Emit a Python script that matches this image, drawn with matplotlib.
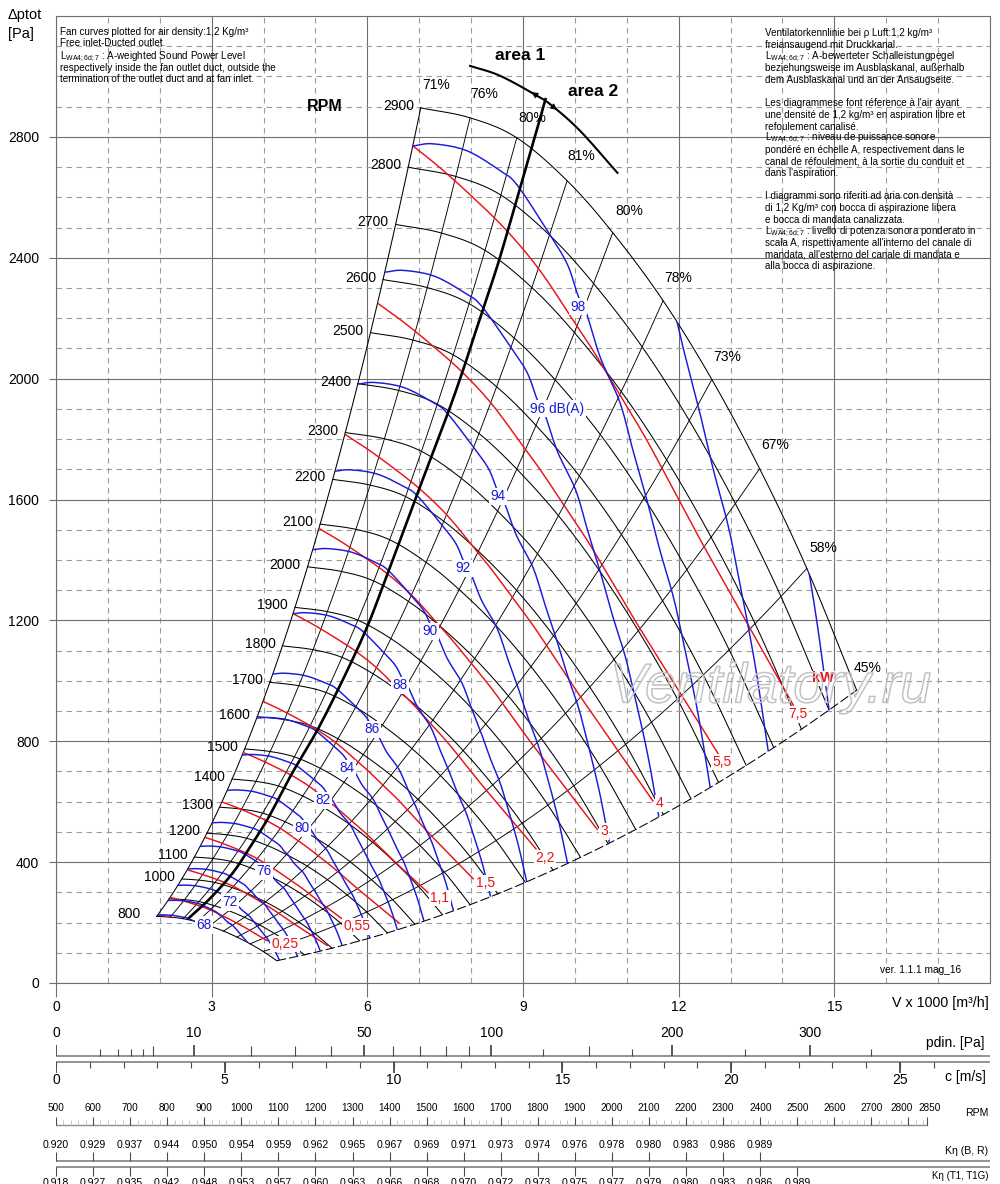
import numpy as np
import matplotlib
matplotlib.use('Agg')
import matplotlib.pyplot as plt
from matplotlib.patches import Polygon
from matplotlib.ticker import MultipleLocator
from matplotlib import patheffects as pe
from matplotlib import font_manager as fm

plt.rcParams['font.family'] = ['Liberation Sans', 'DejaVu Sans']
plt.rcParams['mathtext.fontset'] = 'custom'
plt.rcParams['mathtext.rm'] = 'Liberation Sans'
plt.rcParams['mathtext.it'] = 'Liberation Sans:italic'
plt.rcParams['mathtext.bf'] = 'Liberation Sans:bold'
try:
    fm.findfont('Liberation Sans Narrow', fallback_to_default=False)
    NARROW = ['Liberation Sans Narrow', 'Liberation Sans', 'DejaVu Sans']
    NS = 8.3
except Exception:
    NARROW = ['Liberation Sans', 'DejaVu Sans']
    NS = 7.6

# ------------------------------------------------------------------ data
# fan characteristic at the top speed (V x1000 m3/h, total pressure Pa)
base_V = [7.03, 7.98, 8.88, 9.85, 10.73, 11.70, 12.64, 13.56, 14.47, 15.43]
base_p = [2896, 2863, 2797, 2655, 2483, 2258, 1997, 1702, 1372, 969]
eff_labels = ['71%', '76%', '80%', '81%', '80%', '78%', '73%', '67%', '58%', '45%']
eff_label_V = [7.33, 8.25, 9.18, 10.12, 11.05, 11.99, 12.94, 13.86, 14.79, 15.65]
eff_label_p = [2972, 2942, 2863, 2737, 2556, 2334, 2070, 1779, 1441, 1041]

rpm_values = [800, 900, 1000, 1100, 1200, 1300, 1400, 1500, 1600, 1700, 1800,
              1900, 2000, 2100, 2200, 2300, 2400, 2500, 2600, 2700, 2800, 2900]
rpm_labelled = [800, 1000, 1100, 1200, 1300, 1400, 1500, 1600, 1700, 1800, 1900,
                2000, 2100, 2200, 2300, 2400, 2500, 2600, 2700, 2800, 2900]

# shaft power lines (kW): reference line (7,5 kW) and start / end of each line
red_ref_V = [6.88, 7.40, 8.04, 8.69, 9.33, 9.97, 10.35, 10.87, 11.39, 12.00, 12.47, 13.24, 13.70, 14.21]
red_ref_p = [2770, 2698, 2599, 2489, 2357, 2192, 2093, 1945, 1795, 1600, 1450, 1215, 1075, 919]
red_start_V = [1.97, 2.20, 2.53, 2.87, 3.20, 3.61, 3.99, 4.57, 5.07, 5.57, 6.20, 6.88]
red_end_V = [np.nan, 4.07, np.nan, 5.51, np.nan, 7.17, 8.04, 9.25, 10.43, 11.58, 12.76, 14.21]
red_label_text = ['0,25', '0,55', '1,1', '1,5', '2,2', '3', '4', '5,5', '7,5']
red_label_V = [4.41, 5.80, 7.40, 8.27, 9.43, 10.56, 11.64, 12.84, 14.29]
red_label_p = [129, 188, 281, 331, 413, 502, 595, 731, 889]

# sound power lines dB(A): reference line (98 dB) and start of each line
blue_ref_V = [6.88, 7.27, 7.92, 8.56, 8.89, 9.47, 9.85, 10.06, 10.22, 10.49, 10.87,
              11.12, 11.39, 11.64, 11.88, 12.03, 12.36, 12.61]
blue_ref_p = [2770, 2777, 2754, 2688, 2640, 2489, 2380, 2275, 2218, 2070, 1920,
              1762, 1597, 1431, 1289, 1177, 903, 645]
blue_levels = [68, 70, 72, 74, 76, 78, 80, 82, 84, 86, 88, 90, 92, 94, 96, 98, 100, 102]
blue_start_V = [1.96, 2.16, 2.35, 2.54, 2.78, 3.01, 3.30, 3.59, 3.87, 4.18, 4.57, 4.95,
                5.38, 5.82, 6.34, 6.88, 7.49, 8.13]
blue_label_text = ['68', '72', '76', '80', '82', '84', '86', '88', '90', '92', '94', '96 dB(A)', '98']
blue_label_V = [2.85, 3.35, 4.01, 4.74, 5.15, 5.61, 6.09, 6.63, 7.21, 7.85, 8.52, 9.66, 10.06]
blue_label_p = [192, 268, 370, 512, 605, 711, 840, 985, 1164, 1372, 1610, 1901, 2238]

# area 1 / area 2 limit
area_V = [2.54, 2.97, 3.41, 3.74, 4.07, 4.38, 4.57, 5.14, 5.91, 6.38, 7.01, 7.53, 7.84,
          8.03, 8.23, 8.50, 8.75, 9.00, 9.27, 9.44]
area_p = [212, 280, 365, 450, 540, 640, 700, 870, 1144, 1350, 1640, 1875, 2026,
          2126, 2230, 2370, 2515, 2665, 2825, 2929]
arc_V = [7.98, 8.56, 9.27, 9.56, 10.10, 10.82]
arc_p = [3035, 3002, 2936, 2903, 2820, 2681]

# lower scales
pdin_major = [0, 10, 50, 100, 200, 300]
pdin_mid = [5, 20, 30, 40, 60, 70, 80, 90, 150]
pdin_small = [1, 2, 3, 4, 125, 175, 250, 350]
pdin_right = 460.0        # pdin value at right edge of the scale
c_major = [0, 5, 10, 15, 20, 25]
c_minor = list(range(0, 27))
c_right = 27.67           # m/s at right edge
rpm_scale = [500, 600, 700, 800, 900, 1000, 1100, 1200, 1300, 1400, 1500, 1600, 1700,
             1800, 1900, 2000, 2100, 2200, 2300, 2400, 2500, 2600, 2700, 2800, 2850]
rpm_right = 3020.0
k_br = ['0.920', '0.929', '0.937', '0.944', '0.950', '0.954', '0.959', '0.962', '0.965',
        '0.967', '0.969', '0.971', '0.973', '0.974', '0.976', '0.978', '0.980', '0.983',
        '0.986', '0.989']
k_t1 = ['0.918', '0.927', '0.935', '0.942', '0.948', '0.953', '0.957', '0.960', '0.963',
        '0.966', '0.968', '0.970', '0.972', '0.973', '0.975', '0.977', '0.979', '0.980',
        '0.983', '0.986', '0.989']

text_en = ['Fan curves plotted for air density:1,2 Kg/m\u00b3',
           'Free inlet-Ducted outlet.',
           r'L$_{\rm WA4;6d;7}$ : A-weighted Sound Power Level',
           'respectively inside the fan outlet duct, outside the',
           'termination of the outlet duct and at fan inlet.']
text_multi = ['Ventilatorkennlinie bei \u03c1 Luft:1,2 kg/m\u00b3',
              'freiansaugend mit Druckkanal.',
              r'L$_{\rm WA4;6d;7}$ : A-bewerteter Schalleistungpegel',
              'beziehungsweise im Ausblaskanal, au\u00dferhalb',
              'dem Ausblaskanal und an der Ansaugseite.',
              '',
              'Les diagrammese font r\u00e9ference \u00e0 l\'air ayant',
              'une densit\u00e9 de 1,2 kg/m\u00b3 en aspiration libre et',
              'refoulement canalis\u00e9.',
              r'L$_{\rm WA4;6d;7}$ : niveau de puissance sonore',
              'pond\u00e9r\u00e9 en \u00e9chelle A, respectivement dans le',
              'canal de r\u00e9foulement, \u00e0 la sortie du conduit et',
              'dans l\'aspiration.',
              '',
              'I diagrammi sono riferiti ad aria con densit\u00e0',
              'di 1,2 Kg/m\u00b3 con bocca di aspirazione libera',
              'e bocca di mandata canalizzata.',
              r'L$_{\rm WA4;6d;7}$ : livello di potenza sonora ponderato in',
              'scala A, rispettivamente all\'interno del canale di',
              'mandata, all\'esterno del canale di mandata e',
              'alla bocca di aspirazione.']

# ------------------------------------------------------------------ helpers
YS = 171.5  # Pa per V-unit visual ratio (for smooth drawing only)


def smooth(xs, ys, n=10):
    P = np.column_stack([np.asarray(xs, float), np.asarray(ys, float) / YS])
    if len(P) < 3:
        return P[:, 0], P[:, 1] * YS
    P = np.vstack([2 * P[0] - P[1], P, 2 * P[-1] - P[-2]])
    t = np.linspace(0, 1, n, endpoint=False)[:, None]
    out = []
    for i in range(1, len(P) - 2):
        p0, p1, p2, p3 = P[i - 1], P[i], P[i + 1], P[i + 2]
        out.append(0.5 * (2 * p1 + (-p0 + p2) * t + (2 * p0 - 5 * p1 + 4 * p2 - p3) * t ** 2
                          + (-p0 + 3 * p1 - 3 * p2 + p3) * t ** 3))
    out.append(P[-2][None, :])
    out = np.vstack(out)
    return out[:, 0], out[:, 1] * YS


W, H = 1000, 1184
L, R, T, B = 56, 990, 16, 983
fig = plt.figure(figsize=(W / 100, H / 100), dpi=100)


def ftext(xp, yp, s, **kw):
    return fig.text(xp / W, 1 - yp / H, s, **kw)


ax = fig.add_axes([L / W, 1 - B / H, (R - L) / W, (B - T) / H])
ax.set_xlim(0, 18)
ax.set_ylim(0, 3200)
ax.set_xticks([0, 3, 6, 9, 12, 15])
ax.set_yticks([0, 400, 800, 1200, 1600, 2000, 2400, 2800])
ax.xaxis.set_minor_locator(MultipleLocator(1))
ax.yaxis.set_minor_locator(MultipleLocator(100))
GC = '#6e6e6e'
ax.grid(which='major', color=GC, lw=0.8)
ax.grid(which='minor', color='#9c9c9c', lw=0.8, ls=(0, (5, 4)))
ax.set_axisbelow(True)
ax.tick_params(which='minor', length=0)
ax.tick_params(axis='x', which='major', length=10, width=0.8, color=GC, pad=2, labelsize=10)
ax.tick_params(axis='y', which='major', length=5, width=0.8, color=GC, pad=7, labelsize=10)
for sp_ in ax.spines.values():
    sp_.set_color(GC)
    sp_.set_linewidth(0.8)

RED = '#e8131a'
BLUE = '#1a1ad8'

# ---- rpm curves
sV, sp = smooth(base_V, base_p)
rr = np.array(rpm_values, float) / rpm_values[-1]
for n, r in zip(rpm_values, rr):
    ax.plot(r * sV, r * r * sp, color='k', lw=0.75, zorder=3)
    if n in rpm_labelled:
        off = -16 if n == 800 else -7
        ax.annotate(str(n), (r * base_V[0], r * r * base_p[0]), xytext=(off, 2),
                    textcoords='offset pixels', ha='right', va='center', fontsize=10, zorder=9)

# ---- efficiency lines
for i, (v, p) in enumerate(zip(base_V, base_p)):
    ex, ey = smooth(rr * v, rr ** 2 * p, n=4)
    ls = (0, (9, 3)) if i == len(base_V) - 1 else '-'
    ax.plot(ex, ey, color='k', lw=0.65 if 0 < i < len(base_V) - 1 else 0.75, ls=ls, zorder=3)
    ax.text(eff_label_V[i], eff_label_p[i], eff_labels[i], ha='center', va='center',
            fontsize=10, zorder=9)

# ---- diagram region for clipping
r_lo = rr[0]
top = np.column_stack([sV, sp])
right = np.column_stack([rr[::-1] * base_V[-1], rr[::-1] ** 2 * base_p[-1]])
bottom = np.column_stack([r_lo * sV[::-1], r_lo ** 2 * sp[::-1]])
left = np.column_stack([rr * base_V[0], rr ** 2 * base_p[0]])
clip = Polygon(np.vstack([top, right, bottom, left]), closed=True, facecolor='none',
               edgecolor='none', transform=ax.transData)
ax.add_patch(clip)

# ---- power lines
rxs, rys = smooth(red_ref_V, red_ref_p)
for s0, e in zip(red_start_V, red_end_V):
    k = s0 / red_ref_V[0]
    x, y = k * rxs, k * k * rys
    if not np.isnan(e) and e < x[-1]:
        m = x <= e
        x, y = np.append(x[m], e), np.append(y[m], np.interp(e, x, y))
    ln, = ax.plot(x, y, color=RED, lw=1.05, zorder=4)
    ln.set_clip_path(clip)
for s, v, p in zip(red_label_text, red_label_V, red_label_p):
    ax.text(v, p, s, color=RED, fontsize=10, ha='center', va='center', zorder=10,
            bbox=dict(boxstyle='square,pad=0.1', fc='white', ec='none'))
ax.text(14.79, 1008, 'kW', color=RED, fontsize=10.5, fontweight='bold', ha='center',
        va='center', zorder=10, bbox=dict(boxstyle='square,pad=0.05', fc='white', ec='none'))

# ---- sound lines
bxs, bys = smooth(blue_ref_V, blue_ref_p)
for s0 in blue_start_V:
    k = s0 / blue_ref_V[0]
    ln, = ax.plot(k * bxs, k * k * bys, color=BLUE, lw=1.05, zorder=5)
    ln.set_clip_path(clip)
for s, v, p in zip(blue_label_text, blue_label_V, blue_label_p):
    ax.text(v, p, s, color=BLUE, fontsize=9.8, ha='center', va='center', zorder=10,
            bbox=dict(boxstyle='square,pad=0.12', fc='white', ec='none'))

# ---- area limit
ax.plot(*smooth(area_V, area_p), color='k', lw=1.9, zorder=6, solid_capstyle='butt')
ax.plot(*smooth(arc_V, arc_p), color='k', lw=1.5, zorder=6)
ax.annotate('', xy=(9.12, 2953), xytext=(9.38, 2924),
            arrowprops=dict(arrowstyle='-|>', color='k', lw=0.8, mutation_scale=9), zorder=7)
ax.annotate('', xy=(9.70, 2884), xytext=(9.46, 2915),
            arrowprops=dict(arrowstyle='-|>', color='k', lw=0.8, mutation_scale=9), zorder=7)
ax.text(8.95, 3068, 'area 1', fontsize=12.5, fontweight='bold', ha='center', va='center')
ax.text(10.35, 2949, 'area 2', fontsize=12.5, fontweight='bold', ha='center', va='center')
ax.text(5.17, 2899, 'RPM', fontsize=11.5, fontweight='bold', ha='center', va='center')

# ---- watermark and version
ax.text(13.77, 975, 'Ventilatory.ru', fontsize=40, style='italic', color='none',
        ha='center', va='center', zorder=11,
        path_effects=[pe.Stroke(linewidth=1.1, foreground='#c2c2c2')])
ax.text(16.66, 43, 'ver. 1.1.1 mag_16', fontsize=7.3, ha='center', va='center')

# ---- text blocks
ys_en = [31.7, 42.9, 56.5, 68.2, 79.5]
for s, yy in zip(text_en, ys_en):
    ftext(60, yy, s, fontsize=7.1, va='center', ha='left')
for i, s in enumerate(text_multi):
    if s:
        ftext(765, 33.3 + i * 11.65, s, fontsize=7.1, va='center', ha='left')

ftext(8, 14.5, '\u0394ptot', fontsize=10.5, va='center', ha='left')
ftext(8, 34, '[Pa]', fontsize=10.5, va='center', ha='left')
ftext(940, 1003, 'V x 1000 [m\u00b3/h]', fontsize=10.3, va='center', ha='center')


# ------------------------------------------------------------------ lower scales
def lower_axes(xmax, fscale=False):
    a = fig.add_axes([L / W, 0, (R - L) / W, 1 - 990 / H])
    if fscale:
        a.set_xscale('function', functions=(lambda v: np.sqrt(np.clip(v, 0, None)), np.square))
    a.set_xlim(0, xmax)
    a.set_ylim(H, 990)
    a.axis('off')
    return a


LC = '#8a8a8a'
TC = '#4a4a4a'
# dynamic pressure
apd = lower_axes(pdin_right, fscale=True)
apd.plot([0, pdin_right], [1056, 1056], color=LC, lw=1.3)
apd.vlines(pdin_major, 1045, 1056, color=TC, lw=1.3)
apd.vlines(pdin_mid, 1046, 1056, color=TC, lw=0.8)
apd.vlines(pdin_small, 1049, 1056, color=TC, lw=0.8)
for v in pdin_major:
    apd.text(v, 1033, str(v), fontsize=10, ha='center', va='center')
ftext(985, 1043, 'pdin. [Pa]', fontsize=10, ha='right', va='center')

# outlet velocity
ac = lower_axes(c_right)
ac.plot([0, c_right], [1062, 1062], color=LC, lw=1.3)
ac.vlines(c_minor, 1062, 1068, color=TC, lw=0.8)
ac.vlines(c_major, 1062, 1073, color=TC, lw=1.3)
for v in c_major:
    ac.text(v, 1080, str(v), fontsize=10, ha='center', va='center')
ftext(986, 1077, 'c [m/s]', fontsize=10, ha='right', va='center')

# rpm and correction factors
ar = fig.add_axes([L / W, 0, (R - L) / W, 1 - 990 / H])
ar.set_xlim(500, rpm_right)
ar.set_ylim(H, 990)
ar.axis('off')
ar.plot([500, rpm_scale[-1]], [1125, 1125], color=LC, lw=1.0)
ar.vlines(np.arange(500, rpm_scale[-1] + 1, 20), 1120, 1125, color='#c4c4c4', lw=0.7)
ar.vlines(rpm_scale, 1117, 1125, color=TC, lw=0.8)
label_shift = {2800: -18, 2850: 8}
for v in rpm_scale:
    ar.text(v + label_shift.get(v, 0), 1108, str(v), fontsize=NS * 0.95, family=NARROW,
            ha='center', va='center')
ftext(988, 1113, 'RPM', fontsize=NS, family=NARROW, ha='right', va='center')

ar.plot([500, rpm_right], [1161, 1161], color=LC, lw=1.3)
ar.vlines(rpm_scale[:len(k_br)], 1152, 1161, color=TC, lw=0.8)
for v, s in zip(rpm_scale, k_br):
    ar.text(v, 1145, s, fontsize=NS, family=NARROW, ha='center', va='center')
ftext(988, 1151, 'K\u03b7 (B, R)', fontsize=NS, family=NARROW, ha='right', va='center')

ar.plot([500, rpm_right], [1167, 1167], color=LC, lw=1.3)
ar.vlines(rpm_scale[:len(k_t1)], 1167, 1176, color=TC, lw=0.8)
for v, s in zip(rpm_scale, k_t1):
    ar.text(v, 1178.5, s, fontsize=NS, family=NARROW, ha='center', va='top', clip_on=False)
ftext(988, 1176, 'K\u03b7 (T1, T1G)', fontsize=NS * 0.92, family=NARROW, ha='right',
      va='center')

fig.savefig('out.png', dpi=100)
